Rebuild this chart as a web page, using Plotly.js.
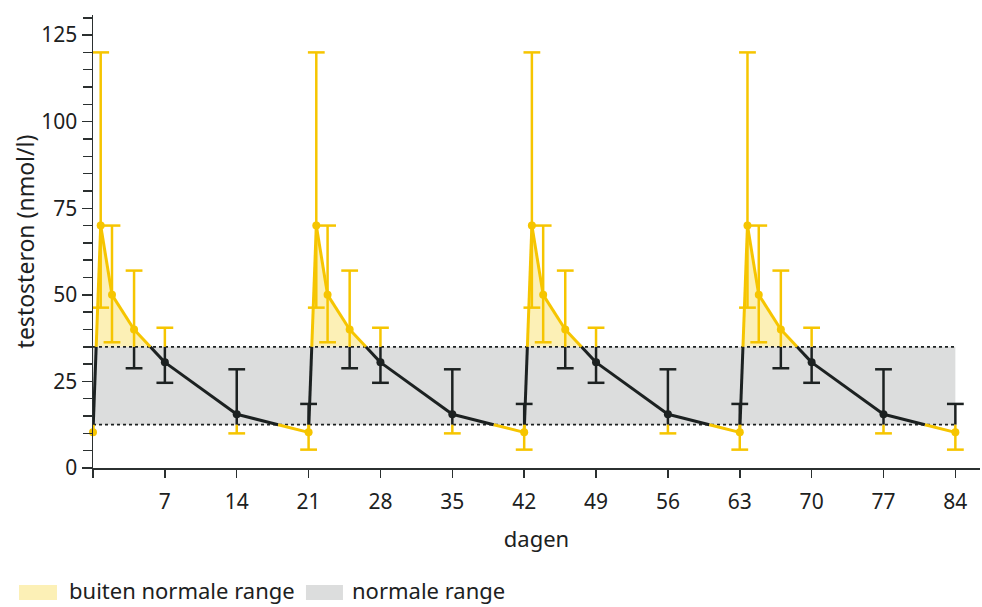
<!DOCTYPE html>
<html><head><meta charset="utf-8">
<script src="https://cdn.plot.ly/plotly-3.0.1.min.js"></script>
<style>html,body{margin:0;padding:0;background:#fff}#chart{width:982px;height:607px}</style>
</head><body><div id="chart"></div>
<script>
// ---- data ----
const days = [0, 0.75, 1.85, 4, 7, 14,
              21, 21.75, 22.85, 25, 28, 35,
              42, 42.75, 43.85, 46, 49, 56,
              63, 63.75, 64.85, 67, 70, 77, 84];
const testosterone = [10.3, 70, 50, 40, 30.5, 15.5,
                      10.3, 70, 50, 40, 30.5, 15.5,
                      10.3, 70, 50, 40, 30.5, 15.5,
                      10.3, 70, 50, 40, 30.5, 15.5, 10.3];
const errorHigh = [null, 120, 70, 57, 40.5, 28.5,
                   18.5, 120, 70, 57, 40.5, 28.5,
                   18.5, 120, 70, 57, 40.5, 28.5,
                   18.5, 120, 70, 57, 40.5, 28.5, 18.5];
const errorLow = [null, 46.3, 36.3, 28.8, 24.6, 10,
                  5.3, 46.3, 36.3, 28.8, 24.6, 10,
                  5.3, 46.3, 36.3, 28.8, 24.6, 10,
                  5.3, 46.3, 36.3, 28.8, 24.6, 10, 5.3];
const normalLow = 12.5;
const normalHigh = 35;
const normalStart = 0;
const normalEnd = 84;
const xTickVals = [0, 7, 14, 21, 28, 35, 42, 49, 56, 63, 70, 77, 84];
const xTickText = ['', '7', '14', '21', '28', '35', '42', '49', '56', '63', '70', '77', '84'];
const yTickVals = [0, 25, 50, 75, 100, 125];
const legendLabels = ['buiten normale range', 'normale range'];
const xTitle = 'dagen';
const yTitle = 'testosteron (nmol/l)';

// ---- styling ----
const YELLOW = '#f6c500';
const YELLOW_FILL = '#fcf0b6';
const BLACK = '#1c2121';
const GRAY = '#dcdddd';
const FONT = 'Noto Sans, sans-serif';

function split(x0, y0, x1, y1) {
  const ts = [0, 1];
  [normalLow, normalHigh].forEach(b => {
    if ((y0 - b) * (y1 - b) < 0) ts.push((b - y0) / (y1 - y0));
  });
  ts.sort((a, b) => a - b);
  const out = [];
  for (let i = 0; i < ts.length - 1; i++) {
    const ta = ts[i], tb = ts[i + 1];
    const xa = x0 + (x1 - x0) * ta, ya = y0 + (y1 - y0) * ta;
    const xb = x0 + (x1 - x0) * tb, yb = y0 + (y1 - y0) * tb;
    const ym = (ya + yb) / 2;
    out.push({xa, ya, xb, yb, inside: ym >= normalLow && ym <= normalHigh, above: ym > normalHigh});
  }
  return out;
}
function inRange(v) { return v >= normalLow && v <= normalHigh; }

const lineY = {x: [], y: []}, lineB = {x: [], y: []};
const fill = {x: [], y: []};
let run = [];
function closeRun() {
  if (run.length) { run.forEach(p => { fill.x.push(p[0]); fill.y.push(p[1]); }); fill.x.push(null); fill.y.push(null); run = []; }
}
for (let i = 0; i < days.length - 1; i++) {
  split(days[i], testosterone[i], days[i + 1], testosterone[i + 1]).forEach(s => {
    const t = s.inside ? lineB : lineY;
    t.x.push(s.xa, s.xb, null); t.y.push(s.ya, s.yb, null);
    if (s.above) {
      if (!run.length) run.push([s.xa, s.ya]);
      run.push([s.xb, s.yb]);
    } else closeRun();
  });
}
closeRun();

const errY = {x: [], y: []}, errB = {x: [], y: []};
const capY = {x: [], y: []}, capB = {x: [], y: []};
for (let i = 0; i < days.length; i++) {
  if (errorHigh[i] == null) continue;
  split(days[i], errorLow[i], days[i], errorHigh[i]).forEach(s => {
    const t = s.inside ? errB : errY;
    t.x.push(s.xa, s.xb, null); t.y.push(s.ya, s.yb, null);
  });
  [errorLow[i], errorHigh[i]].forEach(v => {
    const c = inRange(v) ? capB : capY;
    c.x.push(days[i]); c.y.push(v);
  });
}
const mkY = {x: [], y: []}, mkB = {x: [], y: []};
days.forEach((d, i) => {
  const m = inRange(testosterone[i]) ? mkB : mkY;
  m.x.push(d); m.y.push(testosterone[i]);
});

const traces = [
  {type: 'scatter', mode: 'none', x: fill.x, y: fill.y, fill: 'toself', fillcolor: YELLOW_FILL, hoverinfo: 'skip', showlegend: false},
  {type: 'scatter', mode: 'lines', x: [normalStart, normalEnd, null, normalStart, normalEnd], y: [normalLow, normalLow, null, normalHigh, normalHigh],
   line: {color: BLACK, width: 1.8, dash: '3px,3px'}, hoverinfo: 'skip', showlegend: false},
  {type: 'scatter', mode: 'lines', x: errB.x, y: errB.y, line: {color: BLACK, width: 2.5}, showlegend: false, hoverinfo: 'skip'},
  {type: 'scatter', mode: 'lines', x: errY.x, y: errY.y, line: {color: YELLOW, width: 2.5}, showlegend: false, hoverinfo: 'skip'},
  {type: 'scatter', mode: 'markers', x: capB.x, y: capB.y, cliponaxis: false, marker: {symbol: 'line-ew', size: 12, line: {color: BLACK, width: 2.5}}, showlegend: false, hoverinfo: 'skip'},
  {type: 'scatter', mode: 'markers', x: capY.x, y: capY.y, cliponaxis: false, marker: {symbol: 'line-ew', size: 12, line: {color: YELLOW, width: 2.5}}, showlegend: false, hoverinfo: 'skip'},
  {type: 'scatter', mode: 'lines', x: lineB.x, y: lineB.y, line: {color: BLACK, width: 3}, showlegend: false},
  {type: 'scatter', mode: 'lines', x: lineY.x, y: lineY.y, line: {color: YELLOW, width: 3}, showlegend: false},
  {type: 'scatter', mode: 'markers', x: mkB.x, y: mkB.y, cliponaxis: false, marker: {color: BLACK, size: 8}, showlegend: false},
  {type: 'scatter', mode: 'markers', x: mkY.x, y: mkY.y, cliponaxis: false, marker: {color: YELLOW, size: 8}, showlegend: false}
];

const layout = {
  width: 982, height: 607,
  margin: {l: 93, r: 2, t: 15, b: 139},
  paper_bgcolor: '#ffffff', plot_bgcolor: '#ffffff',
  font: {family: FONT, color: BLACK, size: 21},
  showlegend: false,
  xaxis: {
    range: [0, 86.4], tickvals: xTickVals, ticktext: xTickText,
    showgrid: false, zeroline: false, showline: true, linecolor: '#2b3030', linewidth: 1.5,
    ticks: 'outside', ticklen: 8, tickwidth: 1.5, tickcolor: '#2b3030', ticklabelstandoff: 6,
    tickfont: {size: 21, family: FONT, color: BLACK},
    title: {text: xTitle, font: {size: 22, family: FONT, color: BLACK}, standoff: 18},
    fixedrange: true
  },
  yaxis: {
    range: [0, 130.8], tickvals: yTickVals,
    showgrid: false, zeroline: false, showline: true, linecolor: '#2b3030', linewidth: 1.5,
    ticks: 'outside', ticklen: 10, tickwidth: 1.5, tickcolor: '#2b3030',
    minor: {dtick: 5, tick0: 0, ticks: 'outside', ticklen: 9, tickwidth: 1.5, tickcolor: '#2b3030', showgrid: false},
    tickfont: {size: 21, family: FONT, color: BLACK},
    title: {text: yTitle, font: {size: 23, family: FONT, color: BLACK}, standoff: 0},
    fixedrange: true
  },
  shapes: [
    {type: 'rect', xref: 'x', yref: 'y', x0: normalStart, x1: normalEnd, y0: normalLow, y1: normalHigh,
     fillcolor: GRAY, line: {width: 0}, layer: 'below'},
    {type: 'rect', xref: 'paper', yref: 'paper', x0: -0.0834, x1: -0.0406, y0: -0.2914, y1: -0.2583,
     fillcolor: YELLOW_FILL, line: {width: 0}},
    {type: 'rect', xref: 'paper', yref: 'paper', x0: 0.2401, x1: 0.2818, y0: -0.2914, y1: -0.2583,
     fillcolor: GRAY, line: {width: 0}}
  ],
  annotations: [
    {xref: 'paper', yref: 'paper', x: -0.0293, y: -0.2693, xanchor: 'left', yanchor: 'middle', showarrow: false,
     text: legendLabels[0], font: {size: 22, family: FONT, color: BLACK}},
    {xref: 'paper', yref: 'paper', x: 0.2897, y: -0.2693, xanchor: 'left', yanchor: 'middle', showarrow: false,
     text: legendLabels[1], font: {size: 22, family: FONT, color: BLACK}}
  ]
};

Plotly.newPlot('chart', traces, layout, {displayModeBar: false, staticPlot: true});
</script>
</body></html>
